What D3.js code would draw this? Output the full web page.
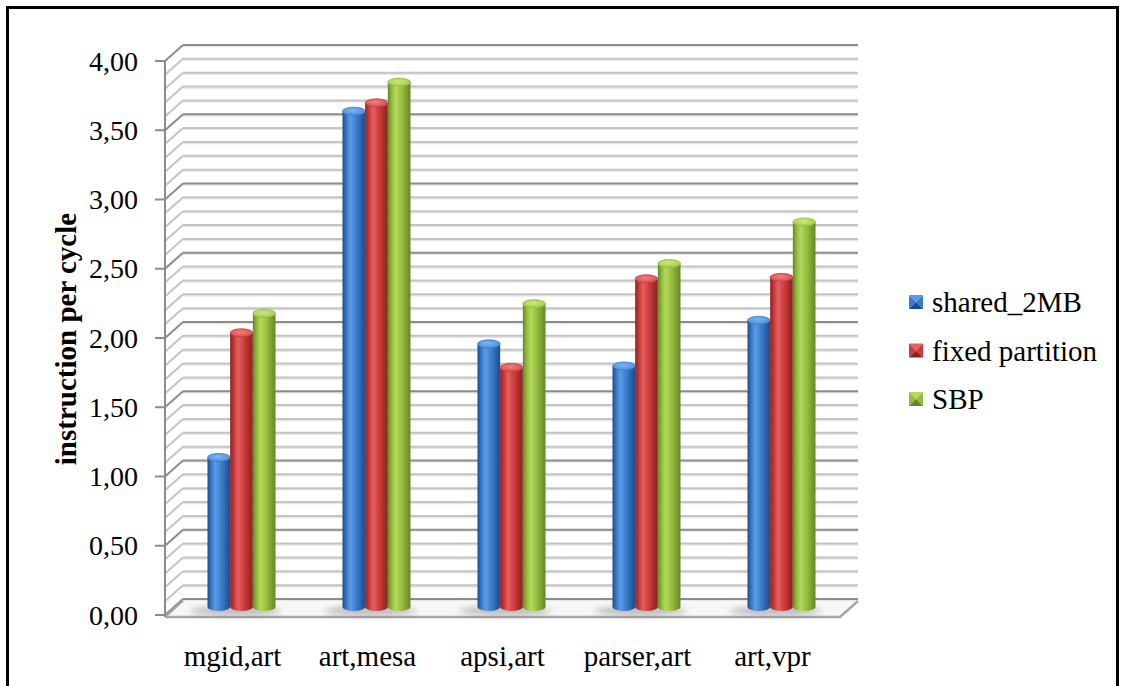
<!DOCTYPE html>
<html>
<head>
<meta charset="utf-8">
<script src="https://cdn.jsdelivr.net/npm/d3@7"></script>
<style>
  html, body { margin: 0; padding: 0; background: #ffffff; }
  svg { display: block; font-family: "Liberation Serif", "Times New Roman", serif; }
</style>
</head>
<body>
<svg id="chart" width="1125" height="686"></svg>
<script>
// ---- data ----
const categories = ["mgid,art", "art,mesa", "apsi,art", "parser,art", "art,vpr"];
const seriesNames = ["shared_2MB", "fixed partition", "SBP"];
const shared2MB = [1.08, 3.58, 1.90, 1.74, 2.07];
const fixedPartition = [1.98, 3.64, 1.73, 2.37, 2.38];
const sbp = [2.12, 3.79, 2.19, 2.48, 2.78];
const yTicks = [0, 0.5, 1, 1.5, 2, 2.5, 3, 3.5, 4];
const yTickLabels = ["0,00", "0,50", "1,00", "1,50", "2,00", "2,50", "3,00", "3,50", "4,00"];
const axisTitle = "instruction per cycle";

const seriesValues = [shared2MB, fixedPartition, sbp];

// ---- layout ----
const W = 1125, H = 686;
const svg = d3.select("#chart");
const defs = svg.append("defs");

// oblique depth of the 3D box
const DX = 18, DY = -16;
const x = d3.scaleBand().domain(categories).range([165, 840]);
const y = d3.scaleLinear().domain([0, 4]).range([615, 61]);
const xs = d3.scaleBand().domain(seriesNames).range([-34, 34]);

const palette = {
  "shared_2MB":      { dark: "#1d4a88", base: "#3a7ccc", light: "#5b9ce6", top: "#4f90dc", topHi: "#7db3ef" },
  "fixed partition": { dark: "#8a2020", base: "#cc3b3b", light: "#e56060", top: "#dc4c4c", topHi: "#ef8080" },
  "SBP":             { dark: "#66862a", base: "#95bd3c", light: "#b5da5e", top: "#a6cc48", topHi: "#c9e784" }
};

// cylinder body and cap gradients
seriesNames.forEach((s, i) => {
  const c = palette[s];
  const g = defs.append("linearGradient").attr("id", "body" + i)
    .attr("x1", "0").attr("x2", "1").attr("y1", "0").attr("y2", "0");
  g.append("stop").attr("offset", "0%").attr("stop-color", c.dark);
  g.append("stop").attr("offset", "18%").attr("stop-color", c.base);
  g.append("stop").attr("offset", "35%").attr("stop-color", c.light);
  g.append("stop").attr("offset", "62%").attr("stop-color", c.base);
  g.append("stop").attr("offset", "100%").attr("stop-color", c.dark);
  const t = defs.append("radialGradient").attr("id", "cap" + i)
    .attr("cx", "45%").attr("cy", "40%").attr("r", "60%");
  t.append("stop").attr("offset", "0%").attr("stop-color", c.topHi);
  t.append("stop").attr("offset", "100%").attr("stop-color", c.top);
});

const blur = defs.append("filter").attr("id", "soft")
  .attr("x", "-50%").attr("y", "-200%").attr("width", "200%").attr("height", "500%");
blur.append("feGaussianBlur").attr("stdDeviation", "3");

svg.append("rect").attr("width", W).attr("height", H).attr("fill", "#ffffff");

// ---- walls: gridlines every 0.1 on the back wall and side wall ----
const gridVals = d3.range(0, 41).map(i => i / 10);
const grid = svg.append("g");
gridVals.forEach(v => {
  const major = Math.abs(v * 2 - Math.round(v * 2)) < 1e-6;
  const yy = y(v);
  const col = major ? "#8c8c8c" : "#c4c4c4";
  // soft lower edge of each grid rule
  grid.append("line")
    .attr("x1", x.range()[0] + DX).attr("x2", x.range()[1] + DX)
    .attr("y1", yy + DY + 1.5).attr("y2", yy + DY + 1.5)
    .attr("stroke", "#e6e6e6").attr("stroke-width", 1.5);
  grid.append("line")
    .attr("x1", x.range()[0] + DX).attr("x2", x.range()[1] + DX)
    .attr("y1", yy + DY).attr("y2", yy + DY)
    .attr("stroke", col).attr("stroke-width", 2);
  grid.append("line")
    .attr("x1", x.range()[0]).attr("x2", x.range()[0] + DX)
    .attr("y1", yy).attr("y2", yy + DY)
    .attr("stroke", col).attr("stroke-width", 2);
});

// ---- floor ----
const f0 = y(0) + 2;
svg.append("polygon")
  .attr("points", [
    [x.range()[0], f0], [x.range()[1], f0],
    [x.range()[1] + DX, f0 + DY], [x.range()[0] + DX, f0 + DY]
  ].map(p => p.join(",")).join(" "))
  .attr("fill", "#f7f7f7").attr("stroke", "none");
svg.append("polyline")
  .attr("points", [
    [x.range()[0], f0], [x.range()[1], f0], [x.range()[1] + DX, f0 + DY]
  ].map(p => p.join(",")).join(" "))
  .attr("fill", "none").attr("stroke", "#a6a6a6").attr("stroke-width", 2.5);
svg.append("line")
  .attr("x1", x.range()[0]).attr("x2", x.range()[0] + DX)
  .attr("y1", f0).attr("y2", f0 + DY)
  .attr("stroke", "#a6a6a6").attr("stroke-width", 2);

// ---- vertical axis ----
const axis = svg.append("g");
axis.append("line")
  .attr("x1", x.range()[0]).attr("x2", x.range()[0])
  .attr("y1", y(4)).attr("y2", f0)
  .attr("stroke", "#8c8c8c").attr("stroke-width", 2);
axis.selectAll(".tick").data(yTicks).join("line")
  .attr("x1", x.range()[0] - 10).attr("x2", x.range()[0])
  .attr("y1", d => y(d)).attr("y2", d => y(d))
  .attr("stroke", "#8c8c8c").attr("stroke-width", 2);
axis.selectAll(".lbl").data(yTicks).join("text")
  .attr("x", 138).attr("y", d => y(d))
  .attr("text-anchor", "end").attr("dominant-baseline", "central")
  .attr("font-size", 28).attr("fill", "#000")
  .text((d, i) => yTickLabels[i]);

svg.append("text")
  .attr("transform", "translate(66," + 339 + ") rotate(-90)")
  .attr("text-anchor", "middle").attr("dominant-baseline", "central")
  .attr("font-size", 29).attr("font-weight", "bold").attr("fill", "#000")
  .text(axisTitle);

// ---- category labels ----
svg.append("g").selectAll("text").data(categories).join("text")
  .attr("x", d => x(d) + x.bandwidth() / 2)
  .attr("y", 666)
  .attr("text-anchor", "middle")
  .attr("font-size", 29).attr("fill", "#000")
  .text(d => d);

// ---- bars (cylinders standing mid-depth) ----
const midY = v => y(v) + DY / 2;
const bars = svg.append("g");
const ry = 4;

// floor shadows behind each group
bars.selectAll(".shadow").data(categories).join("ellipse")
  .attr("cx", d => x(d) + x.bandwidth() / 2 + DX / 2 - 6)
  .attr("cy", midY(0) + 4)
  .attr("rx", 46).attr("ry", 4)
  .attr("fill", "#7a7a7a").attr("opacity", 0.55)
  .attr("filter", "url(#soft)");

categories.forEach((cat, ci) => {
  seriesNames.forEach((s, si) => {
    const v = seriesValues[si][ci];
    const bw = xs.bandwidth();
    const cx = x(cat) + x.bandwidth() / 2 + DX / 2 + xs(s) + bw / 2;
    const yt = midY(v), yb = midY(0);
    const g = bars.append("g");
    g.append("path")
      .attr("d", `M${cx - bw / 2},${yt} L${cx - bw / 2},${yb}
                  A${bw / 2},${ry} 0 0 0 ${cx + bw / 2},${yb}
                  L${cx + bw / 2},${yt} Z`)
      .attr("fill", `url(#body${si})`);
    g.append("ellipse")
      .attr("cx", cx).attr("cy", yt).attr("rx", bw / 2).attr("ry", ry)
      .attr("fill", `url(#cap${si})`)
      .attr("stroke", palette[s].base).attr("stroke-width", 0.8);
  });
});

// ---- legend ----
const legend = svg.append("g");
const legY = [302, 350.5, 399];
seriesNames.forEach((s, i) => {
  const c = palette[s];
  const lx = 909, ly = legY[i] - 7, sz = 14;
  const g = legend.append("g");
  const cxm = lx + sz / 2, cym = ly + sz / 2;
  const tri = (pts, fill) => g.append("polygon")
    .attr("points", pts.map(p => p.join(",")).join(" ")).attr("fill", fill);
  tri([[lx, ly], [lx + sz, ly], [cxm, cym]], c.light);
  tri([[lx, ly], [cxm, cym], [lx, ly + sz]], c.base);
  tri([[lx + sz, ly], [lx + sz, ly + sz], [cxm, cym]], c.base);
  tri([[lx, ly + sz], [cxm, cym], [lx + sz, ly + sz]], c.dark);
  g.append("text")
    .attr("x", 932).attr("y", legY[i])
    .attr("dominant-baseline", "central")
    .attr("font-size", 29).attr("fill", "#000")
    .text(s);
});

// ---- outer frame ----
svg.append("rect")
  .attr("x", 7.5).attr("y", 7.5).attr("width", 1110).attr("height", 700)
  .attr("fill", "none").attr("stroke", "#000").attr("stroke-width", 3);
</script>
</body>
</html>
